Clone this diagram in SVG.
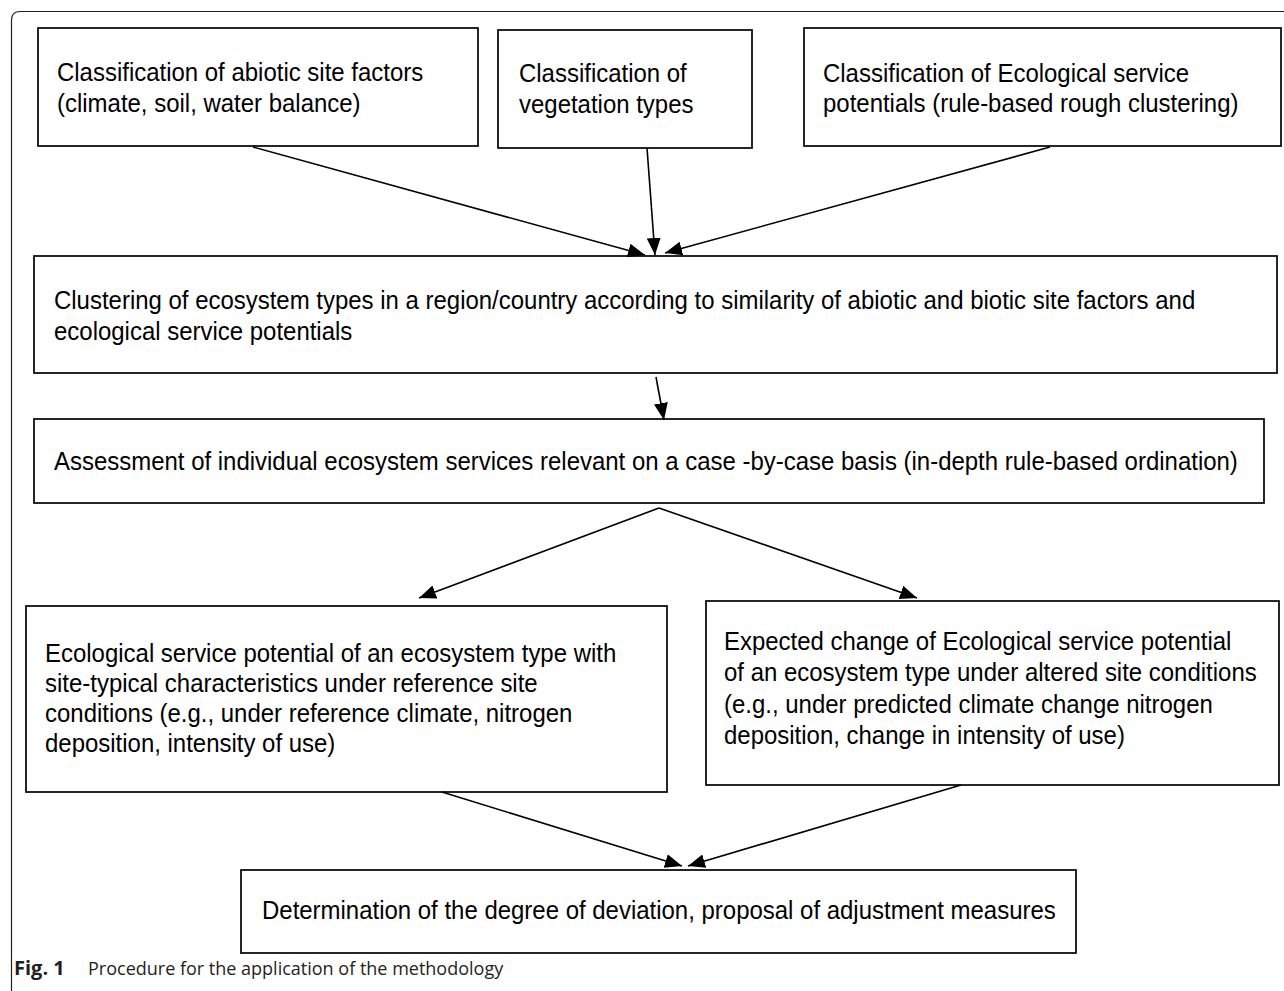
<svg xmlns="http://www.w3.org/2000/svg" width="1284" height="991" viewBox="0 0 1284 991">
<defs>
<style>
.box{fill:#fff;stroke:#000;stroke-width:1.7}
.t{font-family:"Liberation Sans",Arial,sans-serif;font-size:25.5px;fill:#000}
.c{stroke:#000;stroke-width:1.6;fill:none;marker-end:url(#ah)}
.cap{font-family:"Open Sans","Noto Sans",sans-serif;font-size:18px;fill:#231f20}
</style>
<marker id="ah" markerUnits="userSpaceOnUse" markerWidth="20" markerHeight="16" refX="17" refY="7" orient="auto">
<path d="M0,0 L17,7 L0,14 z" fill="#000"/>
</marker>
</defs>
<rect width="1284" height="991" fill="#fff"/>
<path d="M11.5,991 V20 Q11.5,11.5 20,11.5 H1284" fill="none" stroke="#231f20" stroke-width="1.2"/>

<g id="n1"><rect class="box" x="38" y="28" width="440" height="118"/>
<text class="t" transform="translate(57,81) scale(0.94,1)">Classification of abiotic site factors</text>
<text class="t" transform="translate(57,112) scale(0.94,1)">(climate, soil, water balance)</text></g>

<g id="n2"><rect class="box" x="498" y="30" width="254" height="118"/>
<text class="t" transform="translate(519,82) scale(0.94,1)">Classification of</text>
<text class="t" transform="translate(519,113) scale(0.94,1)">vegetation types</text></g>

<g id="n3"><rect class="box" x="804" y="28" width="477" height="118"/>
<text class="t" transform="translate(823,82) scale(0.94,1)">Classification of Ecological service</text>
<text class="t" transform="translate(823,112) scale(0.94,1)">potentials (rule-based rough clustering)</text></g>

<g id="n4"><rect class="box" x="34" y="256" width="1243" height="117"/>
<text class="t" transform="translate(54,309) scale(0.94,1)">Clustering of ecosystem types in a region/country according to similarity of abiotic and biotic site factors and</text>
<text class="t" transform="translate(54,340) scale(0.94,1)">ecological service potentials</text></g>

<g id="n5"><rect class="box" x="34" y="419" width="1230" height="84"/>
<text class="t" transform="translate(54,470) scale(0.94,1)">Assessment of individual ecosystem services relevant on a case -by-case basis (in-depth rule-based ordination)</text></g>

<g id="n6"><rect class="box" x="26" y="606" width="641" height="186"/>
<text class="t" transform="translate(45,662) scale(0.94,1)">Ecological service potential of an ecosystem type with</text>
<text class="t" transform="translate(45,692) scale(0.94,1)">site-typical characteristics under reference site</text>
<text class="t" transform="translate(45,722) scale(0.94,1)">conditions (e.g., under reference climate, nitrogen</text>
<text class="t" transform="translate(45,752) scale(0.94,1)">deposition, intensity of use)</text></g>

<g id="n7"><rect class="box" x="706" y="601" width="573" height="184"/>
<text class="t" transform="translate(724,650) scale(0.94,1)">Expected change of Ecological service potential</text>
<text class="t" transform="translate(724,681) scale(0.94,1)">of an ecosystem type under altered site conditions</text>
<text class="t" transform="translate(724,713) scale(0.94,1)">(e.g., under predicted climate change nitrogen</text>
<text class="t" transform="translate(724,744) scale(0.94,1)">deposition, change in intensity of use)</text></g>

<g id="n8"><rect class="box" x="241" y="870" width="835" height="83"/>
<text class="t" transform="translate(262,919) scale(0.94,1)">Determination of the degree of deviation, proposal of adjustment measures</text></g>

<g id="connectors">
<line class="c" x1="253" y1="147" x2="645" y2="255"/>
<line class="c" x1="647" y1="148" x2="655" y2="255"/>
<line class="c" x1="1050" y1="147" x2="665" y2="253"/>
<line class="c" x1="656" y1="377" x2="664" y2="420"/>
<line class="c" x1="659" y1="508" x2="419" y2="598"/>
<line class="c" x1="659" y1="508" x2="917" y2="598"/>
<line class="c" x1="442" y1="792" x2="682" y2="866"/>
<line class="c" x1="961" y1="785" x2="688" y2="866"/>
</g>

<g id="caption">
<text class="cap" x="14" y="975"><tspan font-weight="bold" font-size="20px">Fig. 1</tspan><tspan x="88">Procedure for the application of the methodology</tspan></text>
</g>
</svg>
